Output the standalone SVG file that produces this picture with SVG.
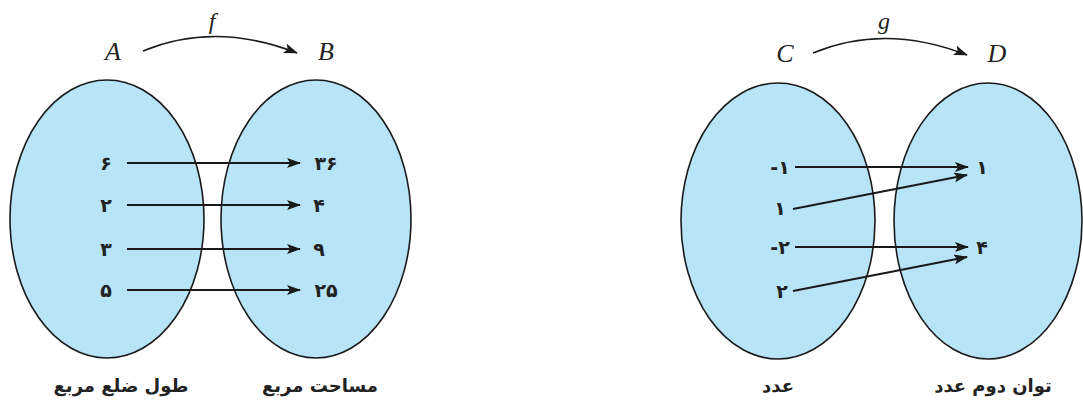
<svg xmlns="http://www.w3.org/2000/svg" width="1083" height="408" viewBox="0 0 1083 408">
<style>
.set{fill:#b8e4f8;stroke:#1a1a1a;stroke-width:1.6}
.lbl{font-family:"Liberation Serif",serif;font-style:italic;font-size:26px;fill:#222;text-anchor:middle}
.fn{font-family:"Liberation Serif",serif;font-style:italic;font-size:24px;fill:#222;text-anchor:middle}
.num{font-family:"DejaVu Sans",sans-serif;font-weight:bold;font-size:19px;fill:#222;text-anchor:middle}
.cap{font-family:"DejaVu Sans",sans-serif;font-weight:bold;font-size:18px;fill:#222;text-anchor:middle}
.ar{fill:none;stroke:#1a1a1a;stroke-width:1.8;marker-end:url(#ah)}
.cv{fill:none;stroke:#1a1a1a;stroke-width:1.6;marker-end:url(#ah)}
</style>
<defs>
<marker id="ah" markerWidth="14" markerHeight="10" refX="13" refY="5" orient="auto" markerUnits="userSpaceOnUse">
<path d="M0,0 L14,5 L0,10 L3,5 Z" fill="#1a1a1a"/>
</marker>
</defs>
<g id="setA">
<ellipse class="set" cx="107" cy="219" rx="97" ry="139"/>
<text class="lbl" x="113" y="60">A</text>
<text class="num" x="106" y="170">۶</text>
<text class="num" x="106" y="212">۲</text>
<text class="num" x="106" y="256">۳</text>
<text class="num" x="106" y="297">۵</text>
<text class="cap" x="121" y="392" direction="rtl">طول ضلع مربع</text>
</g>
<g id="setB">
<ellipse class="set" cx="316" cy="219" rx="95" ry="139"/>
<text class="lbl" x="326" y="60">B</text>
<text class="num" x="326" y="170">۳۶</text>
<text class="num" x="319" y="212">۴</text>
<text class="num" x="319" y="256">۹</text>
<text class="num" x="326" y="297">۲۵</text>
<text class="cap" x="320" y="392" direction="rtl">مساحت مربع</text>
</g>
<g id="setC">
<ellipse class="set" cx="778" cy="221" rx="97" ry="138"/>
<text class="lbl" x="785" y="62">C</text>
<text class="num" x="780" y="174" direction="ltr" unicode-bidi="bidi-override">-۱</text>
<text class="num" x="780" y="215">۱</text>
<text class="num" x="780" y="254" direction="ltr" unicode-bidi="bidi-override">-۲</text>
<text class="num" x="782" y="298">۲</text>
<text class="cap" x="778" y="392" direction="rtl">عدد</text>
</g>
<g id="setD">
<ellipse class="set" cx="988" cy="221" rx="94" ry="138"/>
<text class="lbl" x="997" y="62">D</text>
<text class="num" x="982" y="174">۱</text>
<text class="num" x="982" y="254">۴</text>
<text class="cap" x="993" y="392" direction="rtl">توان دوم عدد</text>
</g>
<g id="connectors">
<path class="cv" d="M143,51 Q215,21 297,53"/>
<text class="fn" x="212" y="29">f</text>
<line class="ar" x1="127" y1="163" x2="300" y2="163"/>
<line class="ar" x1="127" y1="205" x2="300" y2="205"/>
<line class="ar" x1="127" y1="249" x2="300" y2="249"/>
<line class="ar" x1="127" y1="290" x2="300" y2="290"/>
<path class="cv" d="M813,53 Q885,23 967,55"/>
<text class="fn" x="884" y="29">g</text>
<line class="ar" x1="795" y1="167" x2="968" y2="167"/>
<line class="ar" x1="793" y1="209" x2="967" y2="175"/>
<line class="ar" x1="795" y1="247" x2="968" y2="247"/>
<line class="ar" x1="793" y1="291" x2="967" y2="257"/>
</g>
</svg>
